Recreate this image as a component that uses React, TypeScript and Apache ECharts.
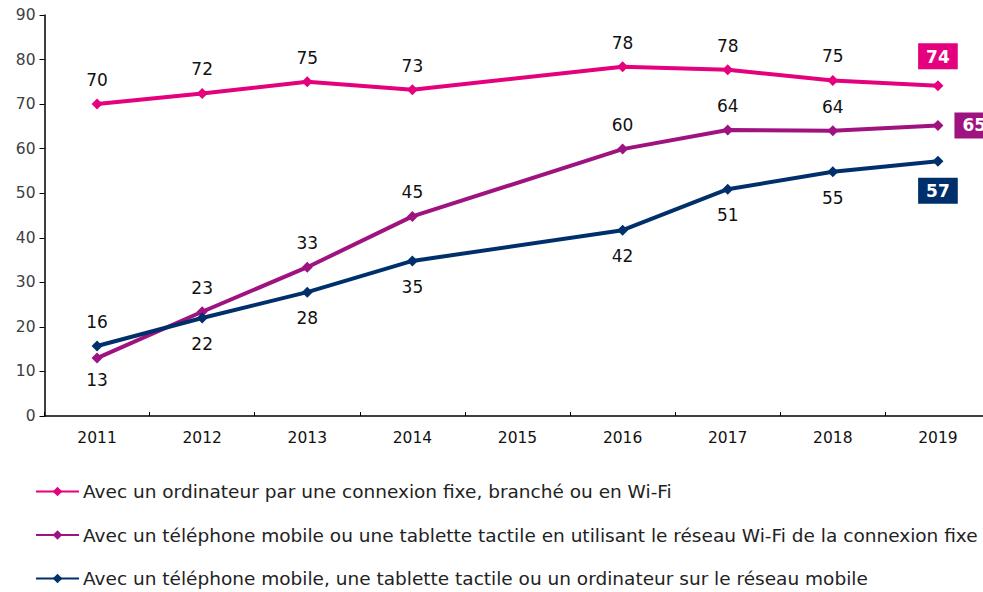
import React, { useEffect, useRef } from "react";
import * as echarts from "echarts";

const years = ["2011", "2012", "2013", "2014", "2015", "2016", "2017", "2018", "2019"];
const yTicks = [0, 10, 20, 30, 40, 50, 60, 70, 80, 90];

const nameFixe = "Avec un ordinateur par une connexion fixe, branché ou en Wi-Fi";
const nameWifi = "Avec un téléphone mobile ou une tablette tactile en utilisant le réseau Wi-Fi de la connexion fixe";
const nameMobile = "Avec un téléphone mobile, une tablette tactile ou un ordinateur sur le réseau mobile";

const fixeValues = [70, 72.4, 75.0, 73.2, null, 78.4, 77.7, 75.3, 74.1];
const wifiValues = [13.0, 23.4, 33.4, 44.8, null, 59.9, 64.2, 64.0, 65.2];
const mobileValues = [15.7, 22.0, 27.8, 34.8, null, 41.7, 50.9, 54.8, 57.2];

const fixeLabelPos = ["top", "top", "top", "top", "top", "top", "top", "top", "top"];
const wifiLabelPos = ["bottom", "top", "top", "top", "top", "top", "top", "top", "right"];
const mobileLabelPos = ["top", "bottom", "bottom", "bottom", "bottom", "bottom", "bottom", "bottom", "bottom"];

const PINK = "#E5007D";
const PURPLE = "#9E1380";
const NAVY = "#00306B";
const FONT = "DejaVu Sans, Verdana, sans-serif";

function buildData(values: (number | null)[], pos: string[], color: string, bottomDist: number) {
  const last = values.length - 1;
  return values.map((v, i) => {
    if (v === null) return null;
    const item: any = {
      value: v,
      label: {
        show: true,
        position: pos[i],
        distance: pos[i] === "bottom" ? bottomDist : 10,
        color: "#111",
        fontSize: 17,
        fontFamily: FONT,
      },
    };
    if (i === last) {
      item.label = {
        show: true,
        position: pos[i],
        distance: 11,
        color: "#fff",
        fontWeight: "bold",
        fontSize: 17,
        fontFamily: FONT,
        backgroundColor: color,
        padding: [5, 8, 4, 8],
      };
    }
    return item;
  });
}

function makeSeries(name: string, values: (number | null)[], pos: string[], color: string, bottomDist: number) {
  return {
    name,
    type: "line",
    data: buildData(values, pos, color, bottomDist),
    connectNulls: true,
    symbol: "diamond",
    symbolSize: 11,
    lineStyle: { color, width: 4 },
    itemStyle: { color },
    label: {
      show: true,
      formatter: (p: any) => String(Math.round(p.value)),
    },
    z: 3,
  };
}

export default function App() {
  const ref = useRef<HTMLDivElement>(null);
  useEffect(() => {
    if (!ref.current) return;
    const chart = echarts.init(ref.current, undefined, { renderer: "svg" });
    chart.setOption({
      animation: false,
      backgroundColor: "#fff",
      textStyle: { fontFamily: FONT },
      grid: { left: 44.5, right: 9.5, top: 15, bottom: 176, containLabel: false },
      xAxis: {
        type: "category",
        data: years,
        boundaryGap: true,
        axisLine: { lineStyle: { color: "#000", width: 1.5 } },
        axisTick: { show: true, inside: true, length: 4, lineStyle: { color: "#000" } },
        axisLabel: { color: "#111", fontSize: 15.5, fontFamily: FONT, margin: 14 },
        splitLine: { show: false },
      },
      yAxis: {
        type: "value",
        min: yTicks[0],
        max: yTicks[yTicks.length - 1],
        interval: 10,
        axisLine: { show: true, lineStyle: { color: "#000", width: 1.5 } },
        axisTick: { show: true, length: 5, lineStyle: { color: "#000" } },
        axisLabel: { color: "#404040", fontSize: 15.5, fontFamily: FONT, margin: 9 },
        splitLine: { show: false },
      },
      legend: {
        orient: "vertical",
        left: 35,
        top: 482,
        padding: 0,
        itemGap: 24.5,
        itemWidth: 43,
        itemHeight: 12,
        textStyle: { fontSize: 18.5, color: "#222", fontFamily: FONT, padding: [0, 0, 0, -1] },
        data: [nameFixe, nameWifi, nameMobile],
      },
      series: [
        makeSeries(nameFixe, fixeValues, fixeLabelPos, PINK, 12),
        makeSeries(nameWifi, wifiValues, wifiLabelPos, PURPLE, 8),
        makeSeries(nameMobile, mobileValues, mobileLabelPos, NAVY, 12),
      ],
    });
    return () => chart.dispose();
  }, []);
  return (
    <div
      ref={ref}
      style={{ position: "absolute", left: 0, top: 0, width: 1000, height: 592 }}
    />
  );
}
